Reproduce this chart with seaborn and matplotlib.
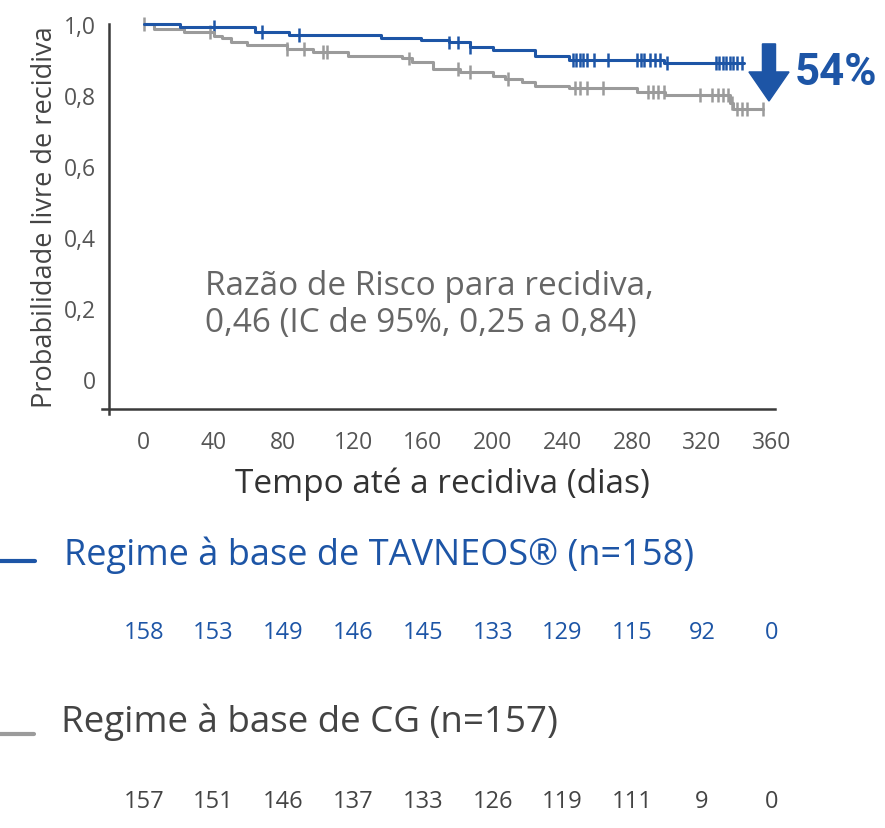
import numpy as np
import pandas as pd
import matplotlib.pyplot as plt
import seaborn as sns
from matplotlib.lines import Line2D
from matplotlib.patches import FancyArrow
from matplotlib.transforms import blended_transform_factory

# dados das curvas (dia do evento, probabilidade após o evento)
tav_dias = [0, 21, 64, 83, 136, 159, 175, 187, 200, 224, 244, 298, 344]
tav_prob = [1.0, 0.991, 0.977, 0.970, 0.961, 0.955, 0.948, 0.934, 0.927, 0.911, 0.899, 0.889, 0.889]
tav_censura = [40, 68, 89, 175, 180, 187, 246, 248, 250, 252, 254, 258, 266,
               283, 285, 287, 290, 293, 296, 300, 328, 330, 332, 334, 336, 338, 340, 343]

cg_dias = [0, 6, 23, 40, 45, 50, 59, 82, 97, 117, 148, 154, 166, 181, 200, 207,
           217, 224, 244, 283, 299, 336, 338, 355]
cg_prob = [1.0, 0.986, 0.977, 0.967, 0.960, 0.950, 0.940, 0.930, 0.920, 0.911, 0.903,
           0.892, 0.873, 0.864, 0.854, 0.845, 0.836, 0.825, 0.819, 0.809, 0.800,
           0.777, 0.761, 0.761]
cg_censura = [0, 38, 82, 92, 103, 105, 152, 180, 187, 209, 247, 250, 254, 263,
              289, 292, 295, 298, 319, 326, 329, 332, 335, 337, 340, 343, 346, 355]

x_ticks = [0, 40, 80, 120, 160, 200, 240, 280, 320, 360]
y_ticks = [0, 0.2, 0.4, 0.6, 0.8, 1.0]
y_labels = ['0', '0,2', '0,4', '0,6', '0,8', '1,0']
risco_tav = [158, 153, 149, 146, 145, 133, 129, 115, 92, 0]
risco_cg = [157, 151, 146, 137, 133, 126, 119, 111, 9, 0]

grupos = ['Regime à base de TAVNEOS® (n=158)', 'Regime à base de CG (n=157)']
azul = '#1d55a6'
cinza = '#9b9b9b'

sns.set_style('white')
plt.rcParams['font.family'] = ['Open Sans', 'DejaVu Sans']


def prob_em(dias, prob, t):
    i = np.searchsorted(dias, t, side='right') - 1
    return np.array(prob)[i]


curvas = pd.concat([
    pd.DataFrame({'dia': tav_dias, 'prob': tav_prob, 'grupo': grupos[0]}),
    pd.DataFrame({'dia': cg_dias, 'prob': cg_prob, 'grupo': grupos[1]}),
])
censuras = pd.concat([
    pd.DataFrame({'dia': tav_censura, 'prob': prob_em(tav_dias, tav_prob, tav_censura), 'grupo': grupos[0]}),
    pd.DataFrame({'dia': cg_censura, 'prob': prob_em(cg_dias, cg_prob, cg_censura), 'grupo': grupos[1]}),
])
paleta = {grupos[0]: azul, grupos[1]: cinza}

fig = plt.figure(figsize=(8.85, 8.29), dpi=100)
ax = fig.add_axes([0.123, 0.5054, 0.753, 0.4644])

# cinza primeiro, azul por cima
sns.lineplot(data=curvas, x='dia', y='prob', hue='grupo', hue_order=grupos[::-1],
             palette=paleta, estimator=None, drawstyle='steps-post', lw=2.2,
             legend=False, ax=ax, clip_on=False)
sns.scatterplot(data=censuras, x='dia', y='prob', hue='grupo', hue_order=grupos[::-1],
                palette=paleta, marker='|', s=100, linewidth=1.8, legend=False,
                ax=ax, clip_on=False)

ax.set_xlim(-20, 362)
ax.set_ylim(-0.085, 1.0)
ax.set_xticks(x_ticks)
ax.set_yticks(y_ticks)
ax.set_yticklabels(y_labels)
for s in ['top', 'right']:
    ax.spines[s].set_visible(False)
for s in ['left', 'bottom']:
    ax.spines[s].set_color('#3a3a3a')
    ax.spines[s].set_linewidth(1.8)
ax.spines['left'].set_bounds(-0.1, 1.0)
ax.spines['bottom'].set_bounds(-24, 362)
ax.tick_params(axis='both', colors='#3a3a3a', length=6, width=1.8,
               labelsize=16.5, labelcolor='#555555')
ax.tick_params(axis='x', pad=9)
ax.set_xlabel('Tempo até a recidiva (dias)', fontsize=24, color='#333333', labelpad=9)
ax.set_ylabel('Probabilidade livre de recidiva', fontsize=19.5, color='#444444', labelpad=3)

ax.text(35, 0.21, 'Razão de Risco para recidiva,\n0,46 (IC de 95%, 0,25 a 0,84)',
        fontsize=24, color='#666666', va='center', ha='left', linespacing=1.15)

# seta e redução
ax.add_patch(FancyArrow(358.4, 0.944, 0, -0.161, width=7.5, head_width=23,
                        head_length=0.082, length_includes_head=True,
                        color=azul, clip_on=False))
ax.text(373, 0.865, '54%', fontsize=31.5, fontweight='bold', color=azul,
        va='center', ha='left', family=['Roboto', 'DejaVu Sans'])

# legenda e números em risco
fig.add_artist(Line2D([0.0, 0.04], [1 - 562 / 829] * 2, color=azul, lw=3))
fig.text(64 / 885, 1 - 555 / 829, grupos[0], fontsize=26, color=azul, va='center')
fig.add_artist(Line2D([0.0, 0.038], [1 - 735 / 829] * 2, color=cinza, lw=3))
fig.text(61 / 885, 1 - 722 / 829, grupos[1], fontsize=26.5, color='#444444', va='center')

trans = blended_transform_factory(ax.transData, fig.transFigure)
for x, n in zip(x_ticks, risco_tav):
    ax.text(x, 1 - 633 / 829, str(n), transform=trans, fontsize=17,
            color=azul, ha='center', va='center')
for x, n in zip(x_ticks, risco_cg):
    ax.text(x, 1 - 802 / 829, str(n), transform=trans, fontsize=17,
            color='#444444', ha='center', va='center')

fig.savefig('out.png', dpi=100)
